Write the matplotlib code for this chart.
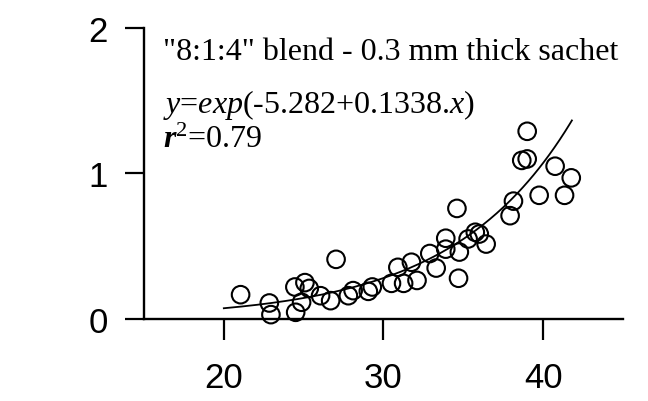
import numpy as np
import matplotlib
matplotlib.use("Agg")
import matplotlib.pyplot as plt

plt.rcParams['mathtext.fontset'] = 'custom'
plt.rcParams['mathtext.rm'] = 'Liberation Serif'
plt.rcParams['mathtext.it'] = 'Liberation Serif:italic'
plt.rcParams['mathtext.bf'] = 'Liberation Serif:bold'
plt.rcParams['mathtext.bfit'] = 'Liberation Serif:bold:italic'

# measured points
temp = [21.05, 22.85, 22.95, 24.45, 24.5, 24.87, 25.08, 25.35, 26.06, 26.69,
        27.03, 27.8, 28.1, 29.05, 29.3, 30.5, 30.9, 31.26, 31.75, 32.1,
        32.9, 33.3, 33.9, 33.9, 34.6, 34.7, 34.75, 35.3, 35.75, 36.0,
        36.43, 37.93, 38.14, 38.66, 39.0, 39.0, 39.75, 40.75, 41.34, 41.76]
rate = [0.167, 0.11, 0.03, 0.22, 0.046, 0.115, 0.25, 0.21, 0.16, 0.126,
        0.41, 0.16, 0.195, 0.19, 0.22, 0.245, 0.355, 0.245, 0.39, 0.265,
        0.45, 0.35, 0.555, 0.48, 0.76, 0.28, 0.46, 0.55, 0.596, 0.584,
        0.515, 0.71, 0.81, 1.09, 1.29, 1.10, 0.85, 1.05, 0.85, 0.97]

# fitted model y = exp(a + b.x)
a, b = -5.282, 0.1338
x_fit = np.linspace(20, 41.8, 200)
y_fit = np.exp(a + b * x_fit)

fig = plt.figure(figsize=(6.48, 4.02), dpi=100)
ax = fig.add_axes([0.2222, 0.204, 0.7392, 0.7239])

ax.plot(x_fit, y_fit, color='black', lw=1.3, clip_on=False)
ax.scatter(temp, rate, s=160, facecolors='none', edgecolors='black',
           linewidths=1.5, clip_on=False, zorder=3)

ax.set_xlim(15, 45)
ax.set_ylim(0, 2)
ax.spines['top'].set_visible(False)
ax.spines['right'].set_visible(False)
ax.spines['left'].set_linewidth(1.7)
ax.spines['bottom'].set_linewidth(1.7)
ax.set_xticks([20, 30, 40])
ax.set_yticks([0, 1, 2])
ax.tick_params(axis='x', direction='out', length=15, width=1.6, pad=15,
               labelsize=25)
ax.tick_params(axis='y', direction='out', length=14, width=1.6, pad=12,
               labelsize=25)
for lab in ax.get_xticklabels() + ax.get_yticklabels():
    lab.set_fontfamily('Liberation Sans')

ax.text(16.2, 1.787, '"8:1:4" blend - 0.3 mm thick sachet',
        fontfamily='Liberation Serif', fontsize=23, va='baseline')
ax.text(16.2, 1.42, r'$\mathit{y}$=$\mathit{exp}$(-5.282+0.1338.$\mathit{x}$)',
        fontfamily='Liberation Serif', fontsize=23, va='baseline')
ax.text(16.2, 1.18, r'$\mathbfit{r}^{2}$=0.79',
        fontfamily='Liberation Serif', fontsize=23, va='baseline')

fig.savefig('out.png', dpi=100)
